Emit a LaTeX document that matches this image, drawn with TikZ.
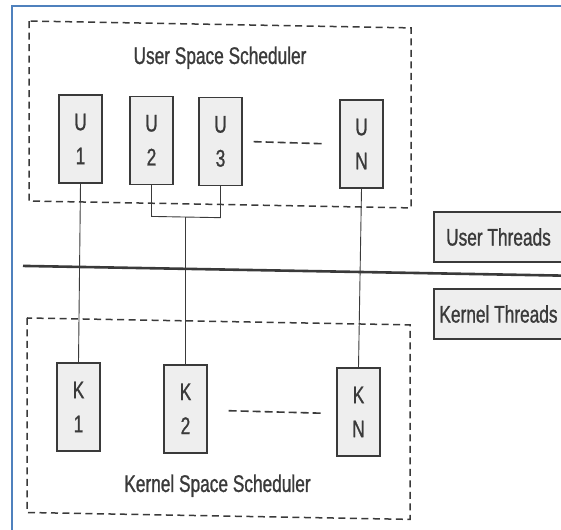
\documentclass[tikz,border=0pt]{standalone}
\usepackage{fontspec}
\newfontfamily\scanfont[FakeStretch=0.72,FakeBold=1]{Liberation Sans}
\usetikzlibrary{calc}

\definecolor{frameblue}{RGB}{79,129,189}
\definecolor{ink}{RGB}{58,58,58}

\begin{document}
\begin{tikzpicture}[x=1pt, y=-1pt,
  every node/.style={font=\scanfont\fontsize{24}{34}\selectfont, text=ink},
  thread/.style={draw=ink, line width=1.4pt, fill=gray!13, minimum width=43pt,
    minimum height=88pt, inner sep=0pt, align=center},
  levelbox/.style={draw=ink, line width=1.4pt, fill=gray!13, minimum width=129pt,
    minimum height=50pt, inner sep=0pt},
  sched/.style={draw=ink, line width=1.5pt, dash pattern=on 7pt off 4.5pt},
  gap/.style={draw=ink, line width=1.6pt, dash pattern=on 8pt off 4pt},
  link/.style={draw=ink, line width=0.9pt}]
  \useasboundingbox[fill=white] (0,0) rectangle (561,529);
  \draw[frameblue, line width=2.5pt] (12,6) rectangle (600,600);

  \begin{scope}[yslant=-0.018]
    % user side
    \draw[sched] (29,20.5) rectangle (411,200.5);
    \node[anchor=base] (usched) at (220,60) {User Space Scheduler};
    \foreach \n/\x/\lab in {U1/80.5/1, U2/151.5/2, U3/220.5/3, UN/361.5/N} {
      \node[thread] (\n) at (\x,137.5) {U\\\lab};
    }
    \draw[gap] (U3.east) ++(11,0) coordinate (ugap) -- ($(UN.west)+(-16,0)$);

    % kernel side
    \draw[sched] (27,317.5) rectangle (410,512);
    \node[anchor=base] (ksched) at (217.5,488) {Kernel Space Scheduler};
    \foreach \n/\x/\lab in {K1/78.5/1, K2/185.5/2, KN/358.5/N} {
      \node[thread] (\n) at (\x,405.5) {K\\\lab};
    }
    \draw[gap] ($(K2.east)+(21,1.5)$) -- ($(KN.west)+(-15,1.5)$);

    % boundary and level labels
    \draw[ink, line width=2.6pt] (23,265.5) -- (580,265.5);
    \node[levelbox] (uthreads) at (498.5,228) {User Threads};
    \node[levelbox] (kthreads) at (498.5,305) {Kernel Threads};

    % mapping
    \coordinate (join) at (185.5,213.7);
    \draw[link] (U1.south) -- (K1.north);
    \draw[link] (U2.south) |- (join) -| (U3.south);
    \draw[link] (join) -- (K2.north);
    \draw[link] (UN.south) -- (KN.north);
  \end{scope}
\end{tikzpicture}
\end{document}
